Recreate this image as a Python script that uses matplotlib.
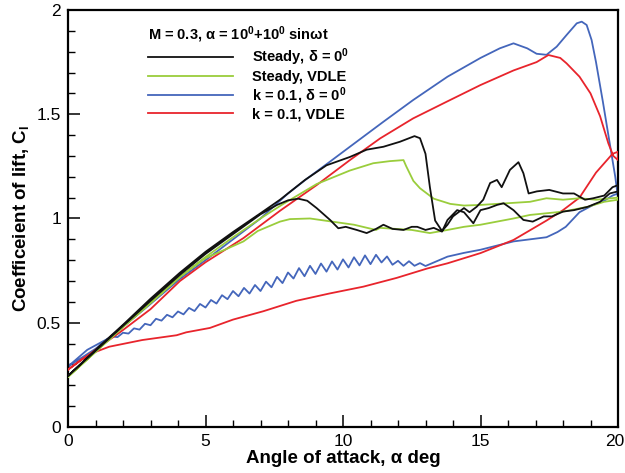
import matplotlib
matplotlib.use("Agg")
import matplotlib.pyplot as plt
import matplotlib.transforms as mtransforms
import numpy as np

plt.rcParams['font.family'] = ['Liberation Sans', 'DejaVu Sans']
plt.rcParams['mathtext.fontset'] = 'custom'
plt.rcParams['mathtext.rm'] = 'Liberation Sans'
plt.rcParams['mathtext.bf'] = 'Liberation Sans:bold'
plt.rcParams['mathtext.it'] = 'Liberation Sans:italic'

# ---------------- data ----------------
# Steady, delta = 0
black_up_a = [0, 1, 2, 3, 4.07, 5, 6, 7, 7.71, 8.62, 9.4, 10.25, 10.86, 11.47, 12.07, 12.6, 12.8, 13.0, 13.16,
              13.35, 13.6, 13.8, 14.0, 14.4, 14.6, 14.86, 15.1, 15.35, 15.6, 15.77, 16.07, 16.38, 16.56, 16.75,
              17.05, 17.5, 18.0, 18.4, 18.8, 19.1, 19.5, 19.8, 20]
black_up_cl = [0.245, 0.37, 0.49, 0.615, 0.74, 0.84, 0.935, 1.025, 1.09, 1.185, 1.255, 1.295, 1.33, 1.344, 1.368,
               1.395, 1.385, 1.31, 1.15, 0.99, 0.94, 0.97, 1.01, 1.05, 1.03, 1.056, 1.09, 1.17, 1.185, 1.15, 1.233,
               1.27, 1.217, 1.12, 1.13, 1.137, 1.12, 1.12, 1.09, 1.097, 1.11, 1.15, 1.16]
black_dn_a = [0, 1, 2, 3, 4.07, 5, 6, 7, 7.6, 8.0, 8.37, 8.7, 9.04, 9.53, 9.83, 10.1, 10.5, 10.86, 11.2, 11.47,
              11.8, 12.2, 12.5, 12.7, 13.0, 13.3, 13.6, 13.8, 14.15, 14.4, 14.74, 15.0, 15.3, 15.6, 15.84, 16.2,
              16.56, 16.9, 17.3, 17.6, 18.0, 18.4, 18.9, 19.35, 19.7, 20]
black_dn_cl = [0.245, 0.365, 0.485, 0.605, 0.73, 0.83, 0.925, 1.02, 1.065, 1.087, 1.095, 1.085, 1.05, 0.993, 0.953,
               0.96, 0.945, 0.93, 0.95, 0.97, 0.95, 0.945, 0.96, 0.96, 0.945, 0.955, 0.937, 0.993, 1.04, 1.03,
               0.977, 1.04, 1.05, 1.065, 1.073, 1.04, 0.993, 0.985, 1.01, 1.01, 1.033, 1.04, 1.056, 1.08, 1.12, 1.13]

# Steady, VDLE
green_up_a = [0, 1, 2, 3, 4.07, 5, 6, 7, 7.83, 9.04, 10.25, 11.1, 11.7, 12.2, 12.3, 12.56, 12.8, 13.3, 13.9, 14.4,
              15.0, 15.6, 16.2, 16.8, 17.4, 18.0, 18.6, 19.2, 20]
green_up_cl = [0.24, 0.36, 0.48, 0.595, 0.72, 0.815, 0.91, 1.0, 1.07, 1.165, 1.23, 1.265, 1.275, 1.28, 1.25, 1.18,
               1.145, 1.095, 1.07, 1.062, 1.065, 1.07, 1.075, 1.08, 1.097, 1.09, 1.097, 1.09, 1.10]
green_dn_a = [0, 1, 2, 3, 4.07, 5, 5.7, 6.38, 6.9, 7.71, 8.07, 8.8, 9.6, 10.4, 11.2, 11.35, 12.5, 13.16, 13.8, 14.4,
              15.0, 15.6, 16.2, 16.8, 17.4, 18.0, 18.9, 19.5, 20]
green_dn_cl = [0.24, 0.36, 0.48, 0.595, 0.72, 0.81, 0.85, 0.89, 0.94, 0.985, 0.997, 1.0, 0.985, 0.97, 0.945, 0.955,
               0.945, 0.93, 0.945, 0.96, 0.97, 0.985, 1.0, 1.017, 1.025, 1.033, 1.056, 1.08, 1.09]

# k = 0.1, delta = 0
blue_up_a = [0, 1, 2, 3, 4.07, 5, 6, 7, 8, 8.68, 9.5, 10.25, 11.47, 12.55, 13.8, 15.0, 15.7, 16.2, 16.7, 17.04,
             17.4, 17.77, 18.13, 18.5, 18.68, 18.86, 19.04, 19.2, 19.45, 19.7, 19.9, 20]
blue_up_cl = [0.29, 0.375, 0.48, 0.59, 0.71, 0.80, 0.90, 1.00, 1.12, 1.19, 1.27, 1.344, 1.464, 1.568, 1.68, 1.77,
              1.816, 1.84, 1.816, 1.79, 1.785, 1.824, 1.88, 1.936, 1.944, 1.928, 1.856, 1.75, 1.56, 1.36, 1.20, 1.10]
blue_dn_a = [0, 0.7, 1.4, 1.6, 1.8, 2.0, 2.2, 2.4, 2.6, 2.8, 3.0, 3.2, 3.4, 3.6, 3.8, 4.0, 4.2, 4.4, 4.6, 4.8, 5.0,
             5.2, 5.4, 5.6, 5.8, 6.0, 6.2, 6.4, 6.6, 6.8, 7.0, 7.2, 7.4, 7.6, 7.8, 8.0, 8.2, 8.4, 8.6, 8.8, 9.0,
             9.2, 9.4, 9.6, 9.8, 10.0, 10.2, 10.4, 10.6, 10.8, 11.0, 11.2, 11.4, 11.6, 11.8, 12.0, 12.2, 12.4,
             12.6, 12.8, 13.0, 13.8, 14.4, 15.0, 15.6, 16.2, 16.8, 17.4, 17.8, 18.1, 18.6, 19.1, 19.5, 19.8, 20]
blue_dn_cl = [0.29, 0.37, 0.42, 0.434, 0.431, 0.452, 0.448, 0.473, 0.467, 0.495, 0.488, 0.519, 0.510, 0.538, 0.526,
              0.554, 0.540, 0.571, 0.556, 0.590, 0.573, 0.609, 0.592, 0.632, 0.613, 0.652, 0.627, 0.667, 0.640,
              0.681, 0.652, 0.697, 0.670, 0.720, 0.690, 0.741, 0.712, 0.762, 0.723, 0.773, 0.734, 0.784, 0.745,
              0.794, 0.755, 0.804, 0.765, 0.814, 0.775, 0.823, 0.781, 0.826, 0.789, 0.818, 0.778, 0.797, 0.773,
              0.795, 0.773, 0.786, 0.772, 0.817, 0.835, 0.85, 0.87, 0.89, 0.90, 0.91, 0.935, 0.96, 1.03, 1.065,
              1.085, 1.11, 1.12]

# k = 0.1, VDLE
red_up_a = [0, 1, 2, 3, 4.07, 5, 6.38, 7.71, 9.04, 10.25, 11.35, 12.55, 13.77, 15.0, 16.2, 17.04, 17.47, 17.9,
            18.13, 18.6, 19.0, 19.35, 19.65, 19.83, 20]
red_up_cl = [0.275, 0.37, 0.465, 0.565, 0.70, 0.79, 0.906, 1.037, 1.16, 1.28, 1.384, 1.48, 1.56, 1.64, 1.71, 1.75,
             1.784, 1.77, 1.744, 1.68, 1.60, 1.49, 1.36, 1.30, 1.28]
red_dn_a = [0, 0.5, 1.0, 1.5, 2.7, 3.95, 4.3, 5.16, 6.0, 7.1, 8.3, 9.5, 10.74, 11.95, 13.06, 13.8, 15.0, 16.2, 17.4,
            18.0, 18.6, 19.2, 19.8, 20]
red_dn_cl = [0.275, 0.325, 0.36, 0.385, 0.417, 0.44, 0.454, 0.475, 0.515, 0.555, 0.605, 0.64, 0.673, 0.715, 0.76,
             0.785, 0.834, 0.897, 0.99, 1.04, 1.10, 1.22, 1.31, 1.32]

labels = [r'Steady, δ = 0$^{\mathbf{0}}$', 'Steady, VDLE',
          r'k = 0.1, δ = 0$^{\mathbf{0}}$', 'k = 0.1, VDLE']
colors = ['#111111', '#9acd3c', '#4466bb', '#e8242c']
legend_title = r'M = 0.3, α = 10$^{\mathbf{0}}$+10$^{\mathbf{0}}$ sinωt'
xtick_labels = ['0', '5', '10', '15', '20']
ytick_labels = ['0', '0.5', '1', '1.5', '2']


def loop(up_a, up_cl, dn_a, dn_cl):
    a = list(up_a) + list(dn_a[::-1])
    c = list(up_cl) + list(dn_cl[::-1])
    return a, c


fig = plt.figure(figsize=(6.25, 4.73), dpi=100)
ax = fig.add_axes([0.1088, 0.0973, 0.88, 0.8816])

series = [(black_up_a, black_up_cl, black_dn_a, black_dn_cl),
          (green_up_a, green_up_cl, green_dn_a, green_dn_cl),
          (blue_up_a, blue_up_cl, blue_dn_a, blue_dn_cl),
          (red_up_a, red_up_cl, red_dn_a, red_dn_cl)]
zorders = [5, 4, 2, 3]
handles = []
for s, lab, col, z in zip(series, labels, colors, zorders):
    a, c = loop(*s)
    h, = ax.plot(a, c, color=col, lw=1.3, label=lab, zorder=z)
    handles.append(h)

ax.set_xlim(0, 20)
ax.set_ylim(0, 2)
ax.set_xticks([0, 5, 10, 15, 20])
ax.set_xticklabels(xtick_labels)
ax.set_yticks([0, 0.5, 1, 1.5, 2])
ax.set_yticklabels(ytick_labels)
ax.set_xticks(np.arange(0, 21, 1), minor=True)
ax.set_yticks(np.arange(0, 2.01, 0.1), minor=True)
ax.tick_params(which='major', direction='in', length=8.5, width=1.1, labelsize=12.5, pad=5,
               top=False, right=False)
ax.tick_params(which='minor', direction='in', length=5, width=1.0, top=False, right=False)
for sp in ax.spines.values():
    sp.set_linewidth(1.6)

# keep the last x tick label inside the figure
last = ax.get_xticklabels()[-1]
last.set_transform(last.get_transform() + mtransforms.ScaledTranslation(-3 / 100, 0, fig.dpi_scale_trans))

ax.set_xlabel('Angle of attack, α deg', fontsize=13.5, fontweight='bold', labelpad=1)
ax.set_ylabel(r'Coefficeient of lift, C$_{\mathbf{l}}$', fontsize=13.5, fontweight='bold', labelpad=4)

leg = ax.legend(handles=handles, loc='upper left', bbox_to_anchor=(0.127, 0.99), frameon=False,
                title=legend_title, alignment='left', handlelength=5.8, handletextpad=1.3,
                labelspacing=0.11, borderpad=0.2,
                prop={'weight': 'bold', 'size': 10.5},
                title_fontproperties={'weight': 'bold', 'size': 10.5})

fig.savefig('out.png', dpi=100)
